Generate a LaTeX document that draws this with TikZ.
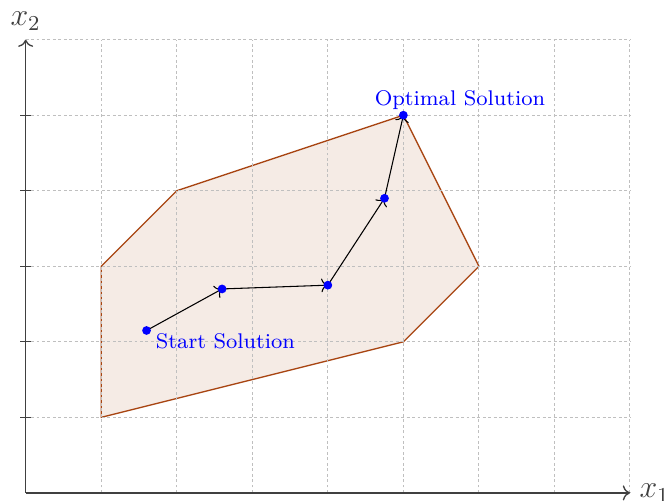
\documentclass[tikz,border=0pt]{standalone}
\usepackage{xcolor}
\definecolor{RegionEdge}{rgb}{0.66, 0.27, 0.07}
\definecolor{PathBlue}{rgb}{0.0, 0.0, 1.0}
\usepackage{tikz}
\usetikzlibrary{positioning, arrows.meta}

\begin{document}
\begin{tikzpicture}[
        % Styles
        grid_line/.style={gray!50, line width=0.4pt, dash pattern=on 1.1pt off 0.95pt},
        axis_line/.style={->, black!75, line width=0.5pt},
        axis_tick/.style={black!75, line width=0.5pt},
        axis_label/.style={font=\large},
        region/.style={draw=RegionEdge, fill=RegionEdge, fill opacity=0.11, line width=0.5pt},
        sol_dot/.style={circle, fill=PathBlue, inner sep=0pt, minimum size=3.3pt},
        sol_step/.style={->, black, line width=0.4pt},
        sol_label/.style={text=PathBlue, font=\footnotesize}
    ]
    \useasboundingbox (-0.34,-0.106) rectangle (8.49,6.525);

    % 1. FEASIBLE REGION
    \draw[region] (1,1) -- (1,3) -- (2,4) -- (5,5) -- (6,3) -- (5,2) -- cycle;

    % 2. GRID AND AXES
    \draw[grid_line] (0,0) grid (8,6);
    \coordinate (origin) at (0,0);
    \coordinate (xmax) at (8,0);
    \coordinate (ymax) at (0,6);
    \draw[axis_line] (origin) -- (xmax) node[axis_label, right] (xlab) {$x_1$};
    \draw[axis_line] (origin) -- (ymax) node[axis_label, above] (ylab) {$x_2$};
    \foreach \y in {1,...,5}
        \draw[axis_tick] (-2pt,\y) -- (2pt,\y);

    % 3. SEARCH PATH (arrows run to the centres, dots on top)
    \coordinate (start) at (1.6,2.15);
    \coordinate (step1) at (2.6,2.7);
    \coordinate (step2) at (4,2.75);
    \coordinate (step3) at (4.75,3.9);
    \coordinate (opt) at (5,5);
    \draw[sol_step] (start) -- (step1);
    \draw[sol_step] (step1) -- (step2);
    \draw[sol_step] (step2) -- (step3);
    \draw[sol_step] (step3) -- (opt);
    \foreach \p in {start, step1, step2, step3, opt}
        \node[sol_dot] (dot-\p) at (\p) {};

    % 4. LABELS
    \node[sol_label, below right, yshift=2.5pt] (startlab) at (start) {Start Solution};
    \node[sol_label, above, xshift=0.75cm, yshift=-1.6pt] (optlab) at (opt) {Optimal Solution};
\end{tikzpicture}
\end{document}
